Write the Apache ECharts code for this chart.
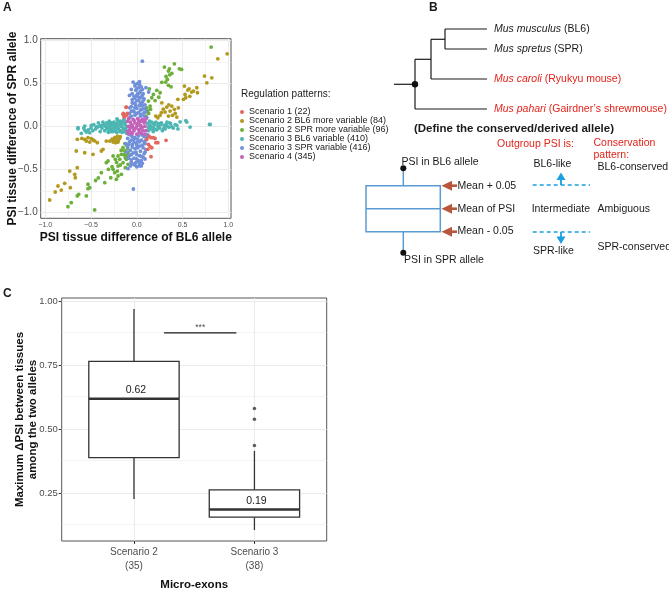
<!DOCTYPE html>
<html>
<head>
<meta charset="utf-8">
<script src="https://cdn.jsdelivr.net/npm/echarts@6/dist/echarts.min.js"></script>
<style>
  html, body { margin:0; padding:0; background:#fff; }
  #chart { width:669px; height:591px; }
</style>
</head>
<body>
<div id="chart"></div>
<script>
// ---- panel A data (PSI tissue difference, BL6 vs SPR) ----
const scenarioNames = [
  'Scenario 1 (22)',
  'Scenario 2 BL6 more variable (84)',
  'Scenario 2 SPR more variable (96)',
  'Scenario 3 BL6 variable (410)',
  'Scenario 3 SPR variable (416)',
  'Scenario 4 (345)'
];
const scenarioColors = ['#e4675f', '#b39a1f', '#6caf3a', '#4db6b3', '#7090da', '#c262b8'];

const s1Points = [
  [-0.117,0.221],[-0.147,0.151],[-0.109,0.131],[-0.135,0.112],[-0.125,0.128],[-0.103,0.151],[-0.15,0.14],
  [-0.139,0.112],[-0.114,0.224],[0.156,-0.132],[0.182,-0.132],[0.208,-0.19],[0.23,-0.19],[0.32,-0.163],
  [0.127,-0.209],[0.164,-0.249],[0.12,-0.267],[0.156,-0.353],[0.109,-0.151],[0.135,-0.118],[0.2,-0.14],[0.145,-0.235]
];
const s2BL6Points = [
  [0.988,0.844],[0.886,0.786],[0.74,0.585],[0.82,0.565],[0.766,0.507],[0.521,0.469],[0.572,0.437],[0.558,0.422],
  [0.656,0.449],[0.6,0.399],[0.663,0.391],[0.528,0.372],[0.536,0.333],[0.449,0.314],[0.51,0.314],[0.274,0.274],
  [0.328,0.224],[0.383,0.236],[0.411,0.198],[0.364,0.178],[0.31,0.166],[0.455,0.216],[0.255,0.128],[0.208,0.12],
  [0.23,0.1],[0.39,0.128],[0.438,0.108],[0.346,0.12],[0.29,0.2],[0.35,0.25],[0.42,0.15],[0.27,0.16],[0.58,0.35],[0.62,0.41],
  [-0.65,-0.151],[-0.569,-0.151],[-0.533,-0.132],[-0.497,-0.144],[-0.478,-0.159],[-0.431,-0.19],[-0.551,-0.171],
  [-0.514,-0.183],[-0.333,-0.171],[-0.295,-0.171],[-0.259,-0.183],[-0.223,-0.151],[-0.205,-0.183],[-0.241,-0.132],
  [-0.212,-0.113],[-0.27,-0.15],[-0.25,-0.16],[-0.19,-0.14],[-0.18,-0.12],[-0.23,-0.19],[-0.2,-0.16],[-0.6,-0.14],[-0.46,-0.17],
  [-0.661,-0.287],[-0.569,-0.307],[-0.478,-0.326],[-0.387,-0.287],[-0.369,-0.267],[-0.733,-0.52],[-0.65,-0.481],
  [-0.678,-0.558],[-0.672,-0.598],[-0.726,-0.714],[-0.788,-0.663],[-0.861,-0.694],[-0.825,-0.741],[-0.891,-0.764],[-0.952,-0.857]
];
const s2SPRPoints = [
  [0.813,0.922],[0.411,0.728],[0.302,0.69],[0.357,0.67],[0.466,0.67],[0.49,0.663],[0.346,0.643],[0.383,0.616],
  [0.335,0.546],[0.317,0.515],[0.274,0.512],[0.346,0.477],[0.375,0.46],[0.138,0.437],[0.219,0.419],[0.255,0.391],
  [0.182,0.372],[0.164,0.333],[0.127,0.294],[0.109,0.216],[0.146,0.236],[0.2,0.3],[0.24,0.34],[0.12,0.18],
  [0.15,0.2],[0.1,0.12],[0.13,0.15],[0.32,0.58],[0.36,0.6],
  [-0.15,-0.249],[-0.131,-0.287],[-0.168,-0.326],[-0.205,-0.345],[-0.125,-0.365],[-0.114,-0.384],[-0.186,-0.384],
  [-0.095,-0.307],[-0.259,-0.345],[-0.234,-0.384],[-0.15,-0.423],[-0.095,-0.442],[-0.205,-0.462],[-0.259,-0.5],
  [-0.212,-0.52],[-0.241,-0.539],[-0.314,-0.403],[-0.333,-0.423],[-0.387,-0.539],[-0.284,-0.598],[-0.35,-0.656],
  [-0.223,-0.616],[-0.205,-0.578],[-0.168,-0.558],[-0.125,-0.481],[-0.533,-0.674],[-0.514,-0.714],[-0.551,-0.81],
  [-0.635,-0.791],[-0.65,-0.81],[-0.716,-0.888],[-0.752,-0.935],[-0.46,-0.973],[-0.533,-0.725],
  [-0.11,-0.22],[-0.1,-0.26],[-0.13,-0.2],[-0.17,-0.28],[-0.14,-0.33],[-0.11,-0.34],[-0.22,-0.42],[-0.18,-0.45],
  [-0.27,-0.47],[-0.31,-0.5],[-0.42,-0.6],[-0.45,-0.63]
];
const s3BL6Points = [
  [-0.642,-0.016],[-0.569,0.003],[-0.497,0.012],[-0.442,-0.005],[-0.405,0.003],[-0.642,-0.028],[-0.569,-0.043],
  [-0.514,-0.074],[-0.606,-0.081],[-0.551,-0.066],[-0.216,0.088],
  [-0.38,-0.02],[-0.36,0.02],[-0.35,-0.05],[-0.33,0.04],[-0.32,-0.01],[-0.3,0.06],[-0.3,-0.04],[-0.29,0.01],
  [-0.28,-0.06],[-0.27,0.03],[-0.26,-0.02],[-0.25,0.05],[-0.24,-0.05],[-0.23,0.0],[-0.22,0.03],[-0.22,-0.07],
  [-0.21,0.07],[-0.2,-0.03],[-0.19,0.02],[-0.18,-0.05],[-0.18,0.06],[-0.17,0.0],[-0.16,-0.07],[-0.16,0.04],
  [-0.15,-0.02],[-0.14,0.08],[-0.14,-0.05],[-0.13,0.02],[-0.12,-0.03],[-0.12,0.05],[-0.11,-0.08],[-0.11,0.0],
  [-0.45,-0.03],[-0.47,0.02],[-0.5,-0.02],[-0.42,0.04],[-0.4,-0.06],[-0.34,0.0],[-0.28,0.04],[-0.2,0.04],
  [-0.24,0.02],[-0.26,-0.06],[-0.31,-0.07],
  [-0.37,0.05],[-0.35,0.01],[-0.33,-0.03],[-0.31,0.03],[-0.29,-0.02],[-0.27,-0.04],[-0.25,0.01],[-0.23,-0.03],
  [-0.21,-0.01],[-0.19,-0.06],[-0.17,0.03],[-0.15,0.06],[-0.13,-0.06],[-0.39,0.01],[-0.43,-0.01],[-0.48,-0.05],
  [-0.53,-0.04],[-0.58,-0.02],
  [0.127,-0.016],[0.2,-0.035],[0.237,-0.008],[0.583,-0.008],[0.474,0.053],[0.536,0.065],[0.795,0.023],
  [0.438,0.012],[0.547,0.05],[0.802,0.023],[0.383,-0.005],[0.328,0.003],
  [0.12,0.03],[0.13,-0.05],[0.14,0.06],[0.15,0.0],[0.16,-0.03],[0.17,0.04],[0.18,-0.06],[0.19,0.02],
  [0.21,0.05],[0.22,-0.04],[0.24,0.03],[0.25,-0.02],[0.27,0.04],[0.28,-0.05],[0.3,0.01],[0.31,-0.03],
  [0.33,0.05],[0.35,-0.01],[0.37,0.03],[0.4,-0.02],[0.42,0.02],[0.45,-0.03],
  [0.14,0.01],[0.16,0.05],[0.18,-0.01],[0.2,0.03],[0.23,0.0],[0.26,0.02],[0.29,-0.03],[0.32,0.02],[0.36,0.04]
];
const s3SPRPoints = [
  [0.061,0.759],[-0.037,-0.729],[-0.04,0.515],[-0.015,0.488],[-0.06,0.43],[0.0,0.36],[-0.05,0.274],[-0.077,0.216],
  [-0.022,0.216],[-0.059,0.178],[-0.077,0.1],[0.01,0.5],[0.03,0.49],[0.05,0.46],[0.02,0.45],[-0.01,0.42],
  [0.04,0.41],[0.07,0.38],[0.01,0.38],[-0.03,0.35],[0.05,0.34],[0.08,0.32],[-0.05,0.31],[0.02,0.3],[0.06,0.28],
  [-0.02,0.27],[0.09,0.25],[0.03,0.24],[-0.06,0.23],[0.0,0.21],[0.06,0.2],[-0.04,0.18],[0.1,0.17],[0.02,0.16],
  [-0.08,0.15],[0.05,0.14],[-0.02,0.13],[0.08,0.12],[-0.06,0.12],[0.11,0.1],[0.13,0.4],[0.1,0.45],[-0.08,0.36],
  [0.04,0.12],[0.0,0.15],[0.08,0.16],[-0.03,0.17],[0.04,0.19],[0.09,0.21],[-0.01,0.24],[0.06,0.24],[-0.04,0.27],
  [0.04,0.27],[0.0,0.3],[0.07,0.3],[-0.02,0.33],[0.03,0.33],[0.01,0.35],[0.06,0.36],[-0.05,0.38],[0.03,0.39],
  [0.0,0.44],[0.06,0.43],[0.03,0.52],[-0.02,0.47],
  [-0.05,-0.12],[0.02,-0.11],[0.08,-0.12],[-0.1,-0.14],[0.11,-0.13],[-0.03,-0.15],[0.05,-0.16],[-0.08,-0.18],
  [0.0,-0.19],[0.09,-0.2],[-0.05,-0.21],[0.03,-0.23],[-0.1,-0.24],[0.07,-0.25],[-0.02,-0.26],[0.1,-0.27],
  [-0.07,-0.28],[0.04,-0.29],[-0.04,-0.31],[0.08,-0.32],[0.0,-0.33],[-0.08,-0.34],[0.05,-0.35],[-0.03,-0.37],
  [0.09,-0.38],[-0.06,-0.39],[0.02,-0.4],[-0.01,-0.42],[0.06,-0.43],[-0.04,-0.44],[0.03,-0.46],[-0.095,-0.493],
  [0.0,-0.47],[-0.11,-0.3],[0.12,-0.1],[-0.12,-0.2],
  [-0.07,-0.1],[0.06,-0.1],[-0.02,-0.13],[0.1,-0.16],[-0.06,-0.16],[0.03,-0.18],[-0.09,-0.21],[0.06,-0.22],
  [0.01,-0.25],[-0.05,-0.24],[0.09,-0.3],[-0.01,-0.3],[-0.06,-0.33],[0.03,-0.34],[0.07,-0.36],[-0.09,-0.37],
  [0.0,-0.38],[0.05,-0.4],[-0.06,-0.42],[0.03,-0.43],[-0.02,-0.45],[0.05,-0.46],[-0.07,-0.46],[0.01,-0.15],
  [0.0,-0.22],[0.08,-0.18],[-0.03,-0.19]
];
const s4Points = [
  [-0.09,-0.09],[-0.05,-0.08],[0.0,-0.09],[0.05,-0.08],[0.09,-0.09],[-0.08,-0.04],[-0.03,-0.05],[0.02,-0.04],
  [0.07,-0.05],[-0.09,0.0],[-0.05,0.01],[0.0,0.0],[0.04,0.01],[0.09,0.0],[-0.07,0.05],[-0.02,0.04],[0.03,0.05],
  [0.08,0.04],[-0.09,0.09],[-0.04,0.08],[0.01,0.09],[0.06,0.08],[0.1,0.09],[-0.06,-0.07],[0.03,-0.07],
  [-0.01,-0.02],[0.06,-0.01],[-0.06,0.02],[0.01,0.03],[0.07,0.07],[-0.03,0.07],[-0.1,0.06],[0.1,-0.05],
  [-0.1,-0.06],[0.05,0.06],[-0.04,-0.02],[0.04,-0.03],[0.09,0.06],[-0.07,-0.01],[0.02,0.07]
];
const scenarioPoints = [s1Points, s2BL6Points, s2SPRPoints, s3BL6Points, s3SPRPoints, s4Points];
const ticksA = [-1, -0.5, 0, 0.5, 1];
const minorTicksA = [-0.75, -0.25, 0.25, 0.75];

// ---- panel C data (micro-exons, max dPSI between tissues) ----
const categoriesC = ['Scenario 2\n(35)', 'Scenario 3\n(38)'];
// [lower whisker, Q1, median, Q3, upper whisker]
const boxStats = [
  [0.228, 0.39, 0.62, 0.766, 0.971],
  [0.107, 0.157, 0.187, 0.264, 0.416]
];
const medianLabels = ['0.62', '0.19'];
const outliersC = [[2, 0.582], [2, 0.54], [2, 0.437]];
const sigBar = [[1.25, 0.878], [1.85, 0.878]];
const sigMark = [[1.55, 0.9]];
const ticksC = [0.25, 0.5, 0.75, 1.0];
const minorTicksC = [0.125, 0.375, 0.625, 0.875];

(()=>{
  const FONT = '"Liberation Sans", Arial, Helvetica, sans-serif';
  const GRID_C = '#ebebeb';
  const chart = echarts.init(document.getElementById('chart'), null, {renderer:'canvas'});
  const minus = (s)=>s.replace('-', '\u2212');

  const gridLines = (xs, ys, xm, ym)=>[
    ...xs.map(v=>({xAxis:v})),
    ...ys.map(v=>({yAxis:v})),
    ...xm.map(v=>({xAxis:v, lineStyle:{width:0.6}})),
    ...ym.map(v=>({yAxis:v, lineStyle:{width:0.6}}))
  ];
  const markGrid = (data)=>({
    silent:true, symbol:'none', z:1, animation:false,
    label:{show:false},
    lineStyle:{type:'solid', color:GRID_C, width:1},
    data
  });

  // panel B drawing helpers
  const g = [];
  const line = (x1,y1,x2,y2,stroke='#1a1a1a',lineWidth=1.2,lineDash=null)=>{
    g.push({type:'line', silent:true, shape:{x1,y1,x2,y2}, style:{stroke, lineWidth, lineDash}});
  };
  const dot = (cx,cy,r=3)=>g.push({type:'circle', silent:true, shape:{cx,cy,r}, style:{fill:'#111'}});
  const poly = (points, fill)=>g.push({type:'polygon', silent:true, shape:{points}, style:{fill}});
  const text = (x,y,str,o={})=>{
    g.push({type:'text', silent:true, z:10, style:Object.assign({
      x, y, text:str, fill:'#1a1a1a', font:`${o.bold ? 'bold ' : ''}${o.size || 10.5}px ${FONT}`,
      textAlign:o.align || 'left', align:o.align || 'left',
      textVerticalAlign:'middle', verticalAlign:'middle'
    }, o.style || {})});
  };
  const RED = '#e2231a';
  const BROWN = '#b8573b';
  const BLUE = '#1a9fe0';
  const BOX = '#5b9bd5';

  // panel labels
  text(3, 8, 'A', {bold:true, size:12});
  text(429, 8, 'B', {bold:true, size:12});
  text(3, 294, 'C', {bold:true, size:12});

  // legend title
  text(241, 94, 'Regulation patterns:', {size:10});

  // tree
  line(394, 84.3, 415, 84.3);
  line(415, 59.3, 415, 109);
  line(415, 109, 487, 109);
  line(415, 59.3, 431, 59.3);
  line(431, 39.3, 431, 79);
  line(431, 79, 487, 79);
  line(431, 39.3, 445, 39.3);
  line(445, 29, 445, 49);
  line(445, 29, 487, 29);
  line(445, 49, 487, 49);
  dot(415, 84.3, 3.2);
  const rich = {i:{fontStyle:'italic', fontSize:10.5, fontFamily:FONT}, n:{fontSize:10.5, fontFamily:FONT}};
  text(494, 29.5, '{i|Mus musculus}{n| (BL6)}', {style:{rich}});
  text(494, 49.5, '{i|Mus spretus}{n| (SPR)}', {style:{rich}});
  text(494, 79.5, '{i|Mus caroli}{n| (Ryukyu mouse)}', {style:{rich, fill:RED}});
  text(494, 109, '{i|Mus pahari}{n| (Gairdner\u2019s shrewmouse)}', {style:{rich, fill:RED}});

  // conserved/derived scheme
  text(514, 128.5, '(Define the conserved/derived allele)', {bold:true, size:11.5, align:'center'});
  text(497, 144, 'Outgroup PSI is:', {style:{fill:RED}});
  text(593.5, 143.5, 'Conservation', {style:{fill:RED}});
  text(593.5, 155.5, 'pattern:', {style:{fill:RED}});

  line(403.3, 168.3, 403.3, 185.7, BOX, 1.5);
  line(403.3, 231.7, 403.3, 252.7, BOX, 1.5);
  g.push({type:'rect', silent:true, shape:{x:366, y:185.7, width:74.3, height:46}, style:{stroke:BOX, lineWidth:1.5, fill:null}});
  line(366, 208.7, 440.3, 208.7, BOX, 1.5);
  text(401.5, 162.5, 'PSI in BL6 allele');
  text(404, 260, 'PSI in SPR allele');
  dot(403.3, 168.3, 3);
  dot(403.3, 252.7, 3);

  [185.7, 208.7, 231.7].forEach((y)=>{
    poly([[441.5, y], [452, y - 5], [452, y + 5]], BROWN);
    g.push({type:'rect', silent:true, shape:{x:451, y:y - 1.3, width:6, height:2.6}, style:{fill:BROWN}});
  });
  text(457.5, 185.7, 'Mean + 0.05');
  text(457.5, 208.7, 'Mean of PSI');
  text(457.5, 231.5, 'Mean - 0.05');

  text(533.5, 164.5, 'BL6-like');
  text(531.7, 208.7, 'Intermediate');
  text(533, 251, 'SPR-like');
  line(532.7, 185, 590, 185, BLUE, 1.5, [4, 3]);
  line(532.7, 232, 590, 232, BLUE, 1.5, [4, 3]);
  line(561, 185, 561, 178, BLUE, 1.8);
  poly([[561, 172.5], [556.5, 180], [565.5, 180]], BLUE);
  line(561, 232, 561, 238, BLUE, 1.8);
  poly([[561, 244], [556.5, 236.5], [565.5, 236.5]], BLUE);
  text(597.5, 166.7, 'BL6-conserved');
  text(597.5, 208.7, 'Ambiguous');
  text(597.5, 246.7, 'SPR-conserved');

  const axisTickStyle = {lineStyle:{color:'#333', width:1}};

  const scatterSeries = scenarioNames.map((name, i)=>({
    name, type:'scatter', xAxisIndex:0, yAxisIndex:0,
    data: scenarioPoints[i],
    symbolSize: 3.8,
    itemStyle:{color: scenarioColors[i], opacity:1},
    z: i === 0 ? 4 : 2,
    silent:true, animation:false
  }));
  scatterSeries[0].markLine = markGrid(gridLines(ticksA, ticksA, minorTicksA, minorTicksA));

  const option = {
    animation:false,
    backgroundColor:'#fff',
    textStyle:{fontFamily:FONT},
    grid:[
      {left:40.7, top:38.7, width:190.3, height:179.6, show:true, borderColor:'#555', borderWidth:1, backgroundColor:'transparent', containLabel:false, outerBoundsMode:'none'},
      {left:61.7, top:298, width:265, height:243, show:true, borderColor:'#555', borderWidth:1, backgroundColor:'transparent', containLabel:false, outerBoundsMode:'none'}
    ],
    legend:{
      orient:'vertical', left:240, top:107.5, padding:0,
      icon:'circle', itemWidth:4, itemHeight:4, itemGap:0,
      selectedMode:false,
      textStyle:{fontSize:9, lineHeight:8.6, color:'#1a1a1a', padding:0},
      data: scenarioNames
    },
    xAxis:[
      {
        gridIndex:0, type:'value', min:-1.05, max:1.03,
        axisLine:{show:false}, splitLine:{show:false},
        axisTick:{show:true, length:2.5, customValues:ticksA, ...axisTickStyle},
        axisLabel:{customValues:ticksA, fontSize:7, color:'#4d4d4d', margin:3, formatter:(v)=>minus(v.toFixed(1))},
        name:'PSI tissue difference of BL6 allele', nameLocation:'middle', nameGap:13.5, nameMoveOverlap:false,
        nameTextStyle:{fontWeight:'bold', fontSize:12, color:'#111'}
      },
      {
        gridIndex:1, type:'value', min:0.4, max:2.6,
        axisLine:{show:false}, splitLine:{show:false},
        axisTick:{show:true, length:3, customValues:[1, 2], ...axisTickStyle},
        axisLabel:{customValues:[1, 2], fontSize:10, lineHeight:14, color:'#4d4d4d', margin:4, formatter:(v)=>categoriesC[Math.round(v) - 1]},
        name:'Micro-exons', nameLocation:'middle', nameGap:38, nameMoveOverlap:false,
        nameTextStyle:{fontWeight:'bold', fontSize:11.5, color:'#111'}
      }
    ],
    yAxis:[
      {
        gridIndex:0, type:'value', min:-1.07, max:1.02,
        axisLine:{show:false}, splitLine:{show:false},
        axisTick:{show:true, length:2.5, customValues:ticksA, ...axisTickStyle},
        axisLabel:{customValues:ticksA, fontSize:10, color:'#4d4d4d', margin:3, formatter:(v)=>minus(v.toFixed(1))},
        name:'PSI tissue difference of SPR allele', nameLocation:'middle', nameGap:22.5, nameMoveOverlap:false,
        nameTextStyle:{fontWeight:'bold', fontSize:12, color:'#111'}
      },
      {
        gridIndex:1, type:'value', min:0.064, max:1.014,
        axisLine:{show:false}, splitLine:{show:false},
        axisTick:{show:true, length:3, customValues:ticksC, ...axisTickStyle},
        axisLabel:{customValues:ticksC, fontSize:9.5, color:'#4d4d4d', margin:4, formatter:(v)=>v.toFixed(2)},
        name:'Maximum \u0394PSI between tissues\namong the two alleles', nameLocation:'middle', nameGap:22, nameMoveOverlap:false,
        nameTextStyle:{fontWeight:'bold', fontSize:11.5, lineHeight:13, color:'#111'}
      }
    ],
    series:[
      ...scatterSeries,
      {
        type:'custom', name:'box', xAxisIndex:1, yAxisIndex:1, silent:true, z:3,
        data: boxStats.map((s, i)=>[i + 1, ...s]),
        renderItem(params, api){
          const x = api.value(0);
          const c = (k)=>api.coord([x, api.value(k)]);
          const pLo = c(1), pQ1 = c(2), pMd = c(3), pQ3 = c(4), pHi = c(5);
          const half = api.size([0.75, 0])[0] / 2;
          const cx = pMd[0];
          const st = {stroke:'#333', lineWidth:1.3, fill:null};
          return {type:'group', children:[
            {type:'line', shape:{x1:cx, y1:pHi[1], x2:cx, y2:pQ3[1]}, style:st},
            {type:'line', shape:{x1:cx, y1:pQ1[1], x2:cx, y2:pLo[1]}, style:st},
            {type:'rect', shape:{x:cx - half, y:pQ3[1], width:half * 2, height:pQ1[1] - pQ3[1]}, style:{stroke:'#333', lineWidth:1.3, fill:'#fff'}},
            {type:'line', shape:{x1:cx - half, y1:pMd[1], x2:cx + half, y2:pMd[1]}, style:{stroke:'#333', lineWidth:2.6}},
            {type:'text', style:{x:cx + 2, y:pMd[1] - 8.5, text:medianLabels[params.dataIndex], fill:'#1a1a1a',
              font:`10.5px ${FONT}`, align:'center', verticalAlign:'middle', textAlign:'center', textVerticalAlign:'middle'}}
          ]};
        },
        markLine: markGrid(gridLines([1, 2], ticksC, [], minorTicksC))
      },
      {
        type:'scatter', name:'outliers', xAxisIndex:1, yAxisIndex:1, silent:true, z:4,
        data: outliersC, symbolSize:3.5, itemStyle:{color:'#333'}
      },
      {
        type:'line', name:'sig', xAxisIndex:1, yAxisIndex:1, silent:true, z:4,
        data: sigBar, symbol:'none', lineStyle:{color:'#1a1a1a', width:1.2}
      },
      {
        type:'scatter', name:'sigText', xAxisIndex:1, yAxisIndex:1, silent:true, z:4,
        data: sigMark, symbolSize:0,
        label:{show:true, position:'inside', formatter:'***', fontSize:8.5, color:'#1a1a1a'}
      }
    ],
    graphic: g
  };

  chart.setOption(option);
})();
</script>
</body>
</html>
